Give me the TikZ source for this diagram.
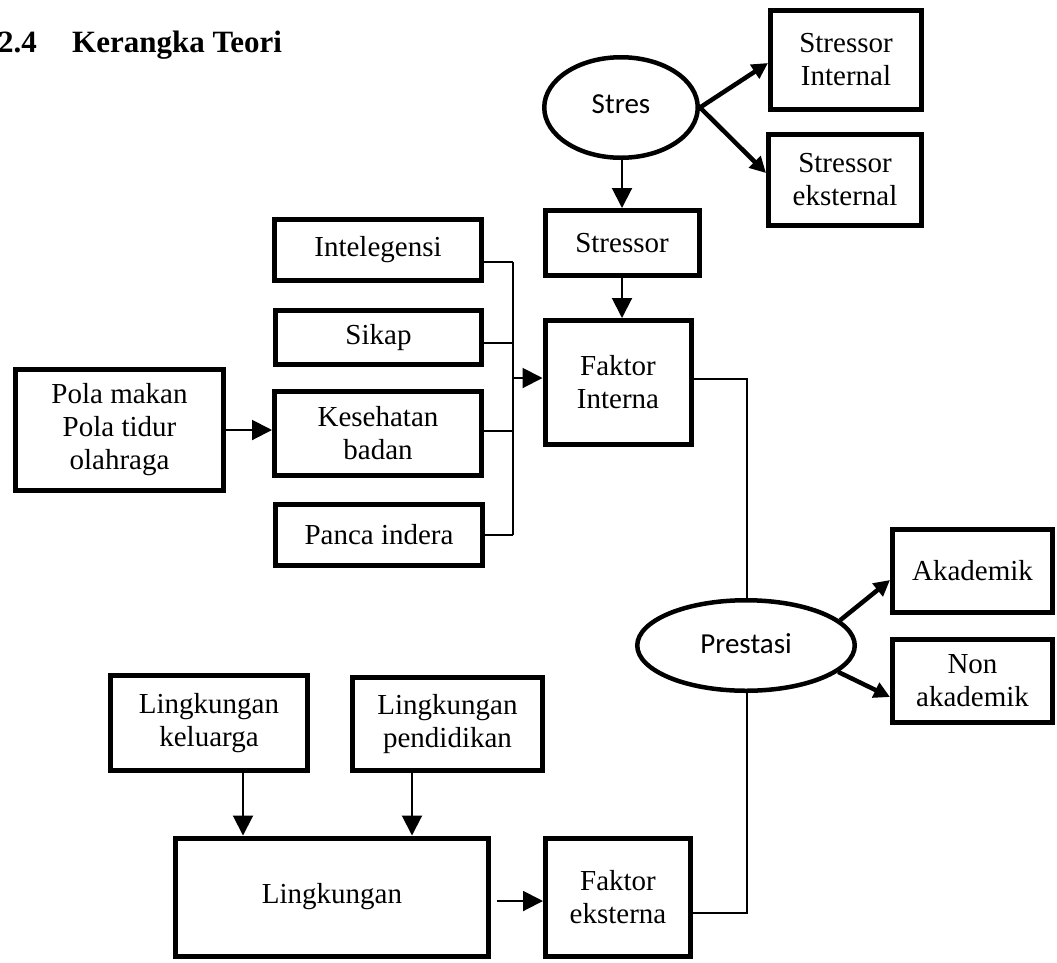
\documentclass[tikz,border=0pt]{standalone}
\usepackage{fontspec}
\setmainfont{Liberation Serif}
\newfontfamily\calib{Carlito}
\usetikzlibrary{arrows.meta,shapes.geometric,calc}
\begin{document}
\begin{tikzpicture}[x=1pt,y=-1pt,
  box/.style={draw, line width=5pt, rectangle, align=center, inner sep=2pt, font=\fontsize{29}{33}\selectfont},
  oval/.style={draw, line width=4.5pt, ellipse, inner sep=0pt, font=\calib\fontsize{29}{33}\selectfont},
  thinline/.style={line width=1.5pt},
  arr/.style={line width=2pt, -{Triangle[length=20pt,width=20pt]}},
  thickarr/.style={line width=4.5pt, -{Triangle[length=16pt,width=16pt]}},
  title/.style={font=\bfseries\fontsize{31}{35}\selectfont, inner sep=0pt}
]
\useasboundingbox (0,0) rectangle (1057,962);

% title
\node[title, anchor=base west] (t1) at (-2,52) {2.4};
\node[title, anchor=base west] (t2) at (72,52) {Kerangka Teori};

% ellipses
\node[oval, minimum width=153.5pt, minimum height=100.5pt] (stres) at (621,107.5) {\raisebox{6pt}{Stres}};
\node[oval, minimum width=217.5pt, minimum height=90.5pt] (prestasi) at (746,645.5) {\raisebox{3pt}{Prestasi}};

% boxes
\node[box, minimum width=151pt, minimum height=99pt] (sint) at (846,60) {Stressor\\Internal};
\node[box, minimum width=153pt, minimum height=91pt] (sext) at (845,180) {Stressor\\eksternal};
\node[box, minimum width=154pt, minimum height=65pt] (stressor) at (622,243) {Stressor};
\node[box, minimum width=146pt, minimum height=124pt] (fint) at (618,382.5) {Faktor\\Interna};
\node[box, minimum width=207pt, minimum height=61pt] (intel) at (378,250) {Intelegensi};
\node[box, minimum width=206pt, minimum height=54pt] (sikap) at (378.5,337.5) {Sikap};
\node[box, minimum width=207pt, minimum height=84pt] (kes) at (378,433.5) {Kesehatan\\badan};
\node[box, minimum width=207pt, minimum height=61pt] (panca) at (379,535) {Panca indera};
\node[box, minimum width=208pt, minimum height=121pt] (pola) at (119.5,430) {Pola makan\\Pola tidur\\olahraga};
\node[box, minimum width=160pt, minimum height=83pt] (akad) at (972.5,571) {Akademik};
\node[box, minimum width=160pt, minimum height=83pt] (nonak) at (972.5,681) {Non\\akademik};
\node[box, minimum width=197pt, minimum height=95pt] (lkel) at (209,723) {Lingkungan\\keluarga};
\node[box, minimum width=190pt, minimum height=93pt] (lpen) at (447.5,724) {Lingkungan\\pendidikan};
\node[box, minimum width=313pt, minimum height=118pt] (ling) at (332,897) {Lingkungan};
\node[box, minimum width=145pt, minimum height=118pt] (fext) at (618,897) {Faktor\\eksterna};

% helper coordinates
\coordinate (b1) at (513,262);
\coordinate (b2) at (513,343);
\coordinate (b3) at (513,431);
\coordinate (b4) at (513,535);
\coordinate (b0) at (513,378);
\coordinate (r1) at (747,379);
\coordinate (r2) at (747,913);
\coordinate (k1) at (243,0);
\coordinate (k2) at (412,0);
\coordinate (l1) at (497,901);

% stres connectors
\draw[arr] (stres.south -| stressor.north) -- (stressor.north);
\draw[thickarr] (stres.east) -- ($(sint.west)+(0,3)$);
\draw[thickarr] (stres.east) -- ($(sext.west)+(0,-7)$);
\draw[arr] (stressor.south) -- (fint.north -| stressor.south);

% internal factors bus
\draw[thinline] (intel.east |- b1) -- (b1);
\draw[thinline] (sikap.east |- b2) -- (b2);
\draw[thinline] (kes.east |- b3) -- (b3);
\draw[thinline] (panca.east |- b4) -- (b4);
\draw[thinline] (b1) -- (b4);
\draw[arr] (b0) -- (fint.west |- b0);
\draw[arr] (pola.east) -- (kes.west |- pola.east);

% to prestasi
\draw[thinline] (fint.east |- r1) -- (r1) -- (r1 |- prestasi.north);
\draw[thinline] (r1 |- prestasi.south) -- (r2) -- (fext.east |- r2);
\draw[thickarr] (prestasi.15) -- ($(akad.west)+(0,9)$);
\draw[thickarr] (prestasi.-16) -- ($(nonak.west)+(0,16)$);

% lingkungan
\draw[arr] (lkel.south -| k1) -- (ling.north -| k1);
\draw[arr] (lpen.south -| k2) -- (ling.north -| k2);
\draw[arr] (l1) -- (fext.west |- l1);
\end{tikzpicture}
\end{document}
